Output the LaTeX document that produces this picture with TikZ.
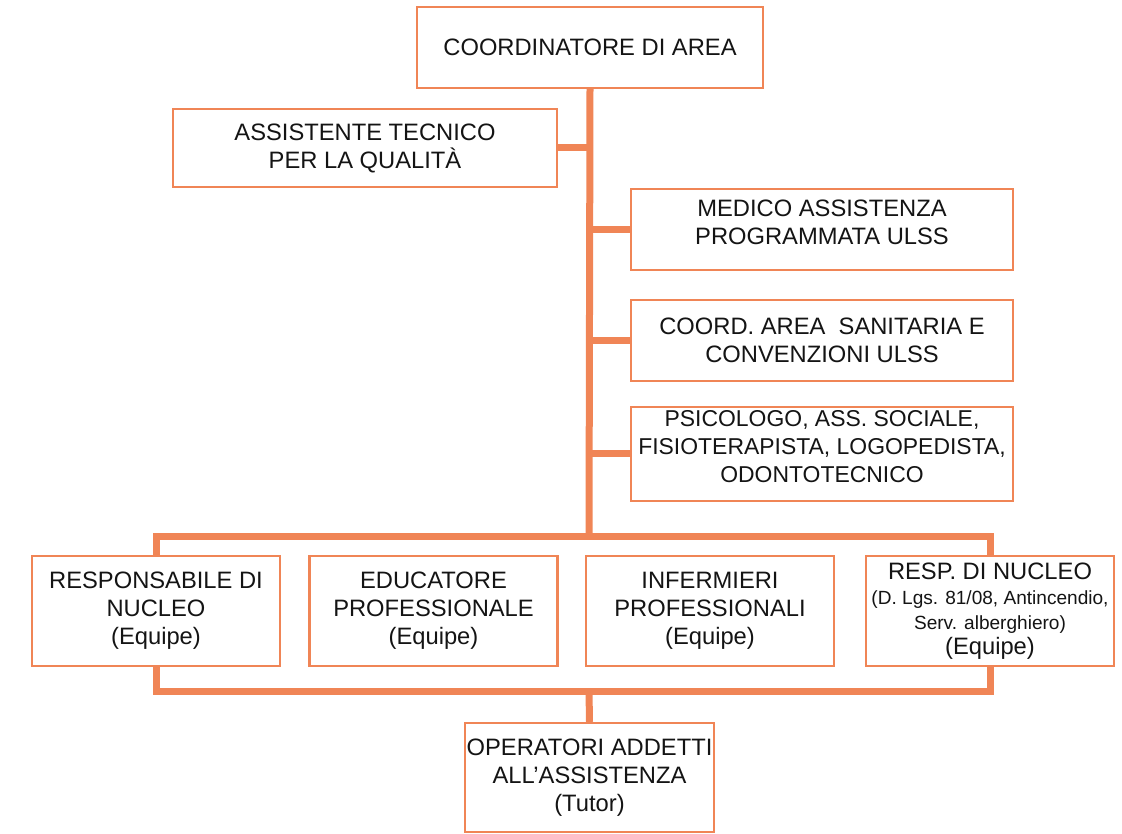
\documentclass[tikz,border=0pt]{standalone}
\usepackage{fontspec}
\setmainfont{Liberation Sans}
\definecolor{orgline}{RGB}{240,133,86}
\definecolor{txt}{RGB}{20,20,20}
\begin{document}
\begin{tikzpicture}[x=0.75pt,y=-0.75pt,
  box/.style={draw=orgline, line width=1.8pt, fill=white, rectangle, inner sep=0pt, align=center,
    text=txt, font=\fontsize{17.8}{21}\selectfont},
  conn/.style={draw=orgline, line width=5.25pt}]
\useasboundingbox (0,0) rectangle (1122,834);
% boxes
\node[box, minimum width=259.5pt, minimum height=60.75pt] (top) at (590,47.5) {COORDINATORE DI AREA};
\node[box, minimum width=288pt, minimum height=58.5pt] (qa) at (365,148) {ASSISTENTE TECNICO\\PER LA QUALITÀ};
\node[box, minimum width=286.5pt, minimum height=60.75pt] (med) at (822,229.5) {MEDICO ASSISTENZA\\PROGRAMMATA ULSS\rule[-10.5pt]{0pt}{0pt}};
\node[box, minimum width=286.5pt, minimum height=60.75pt] (coord) at (822,340.5) {COORD. AREA \ SANITARIA E\\CONVENZIONI ULSS};
\node[box, minimum width=286.5pt, minimum height=70.5pt, font=\fontsize{17.2}{21}\selectfont] (psic) at (822,454) {PSICOLOGO, ASS. SOCIALE,\\FISIOTERAPISTA, LOGOPEDISTA,\\ODONTOTECNICO\rule[-12pt]{0pt}{0pt}};
\node[box, minimum width=186pt, minimum height=82.5pt] (r1) at (156,611) {RESPONSABILE DI\\NUCLEO\\(Equipe)};
\node[box, minimum width=186pt, minimum height=82.5pt] (r2) at (433.5,611) {EDUCATORE\\PROFESSIONALE\\(Equipe)};
\node[box, minimum width=186pt, minimum height=82.5pt] (r3) at (710,611) {INFERMIERI\\PROFESSIONALI\\(Equipe)};
\node[box, minimum width=186pt, minimum height=82.5pt, font=\fontsize{17.8}{18.75}\selectfont] (r4) at (990,611)
  {RESP. DI NUCLEO\\{\fontsize{14.3}{18.75}\selectfont (D. Lgs. 81/08, Antincendio,}\\{\fontsize{14.3}{18.75}\selectfont Serv. alberghiero)}\\(Equipe)};
\node[box, minimum width=186.75pt, minimum height=81.75pt] (op) at (589.5,777.5) {OPERATORI ADDETTI\\ALL’ASSISTENZA\\(Tutor)};
% junction coordinates
\coordinate (tj) at (589,536);
\coordinate (tl) at (r1.north |- tj);
\coordinate (tr) at (r4.north |- tj);
\coordinate (bj) at (589,691);
\coordinate (bl) at (r1.south |- bj);
\coordinate (br) at (r4.south |- bj);
% connectors
\draw[conn] (top.south) -- (tj);
\draw[conn] (qa.east) -- (qa.east -| tj);
\draw[conn] (med.west) -- (med.west -| tj);
\draw[conn] (coord.west) -- (coord.west -| tj);
\draw[conn] (psic.west) -- (psic.west -| tj);
\draw[conn] (r1.north) -- (tl) -- (tr) -- (r4.north);
\draw[conn] (r1.south) -- (bl) -- (br) -- (r4.south);
\draw[conn] (op.north) -- (bj);
\end{tikzpicture}
\end{document}
